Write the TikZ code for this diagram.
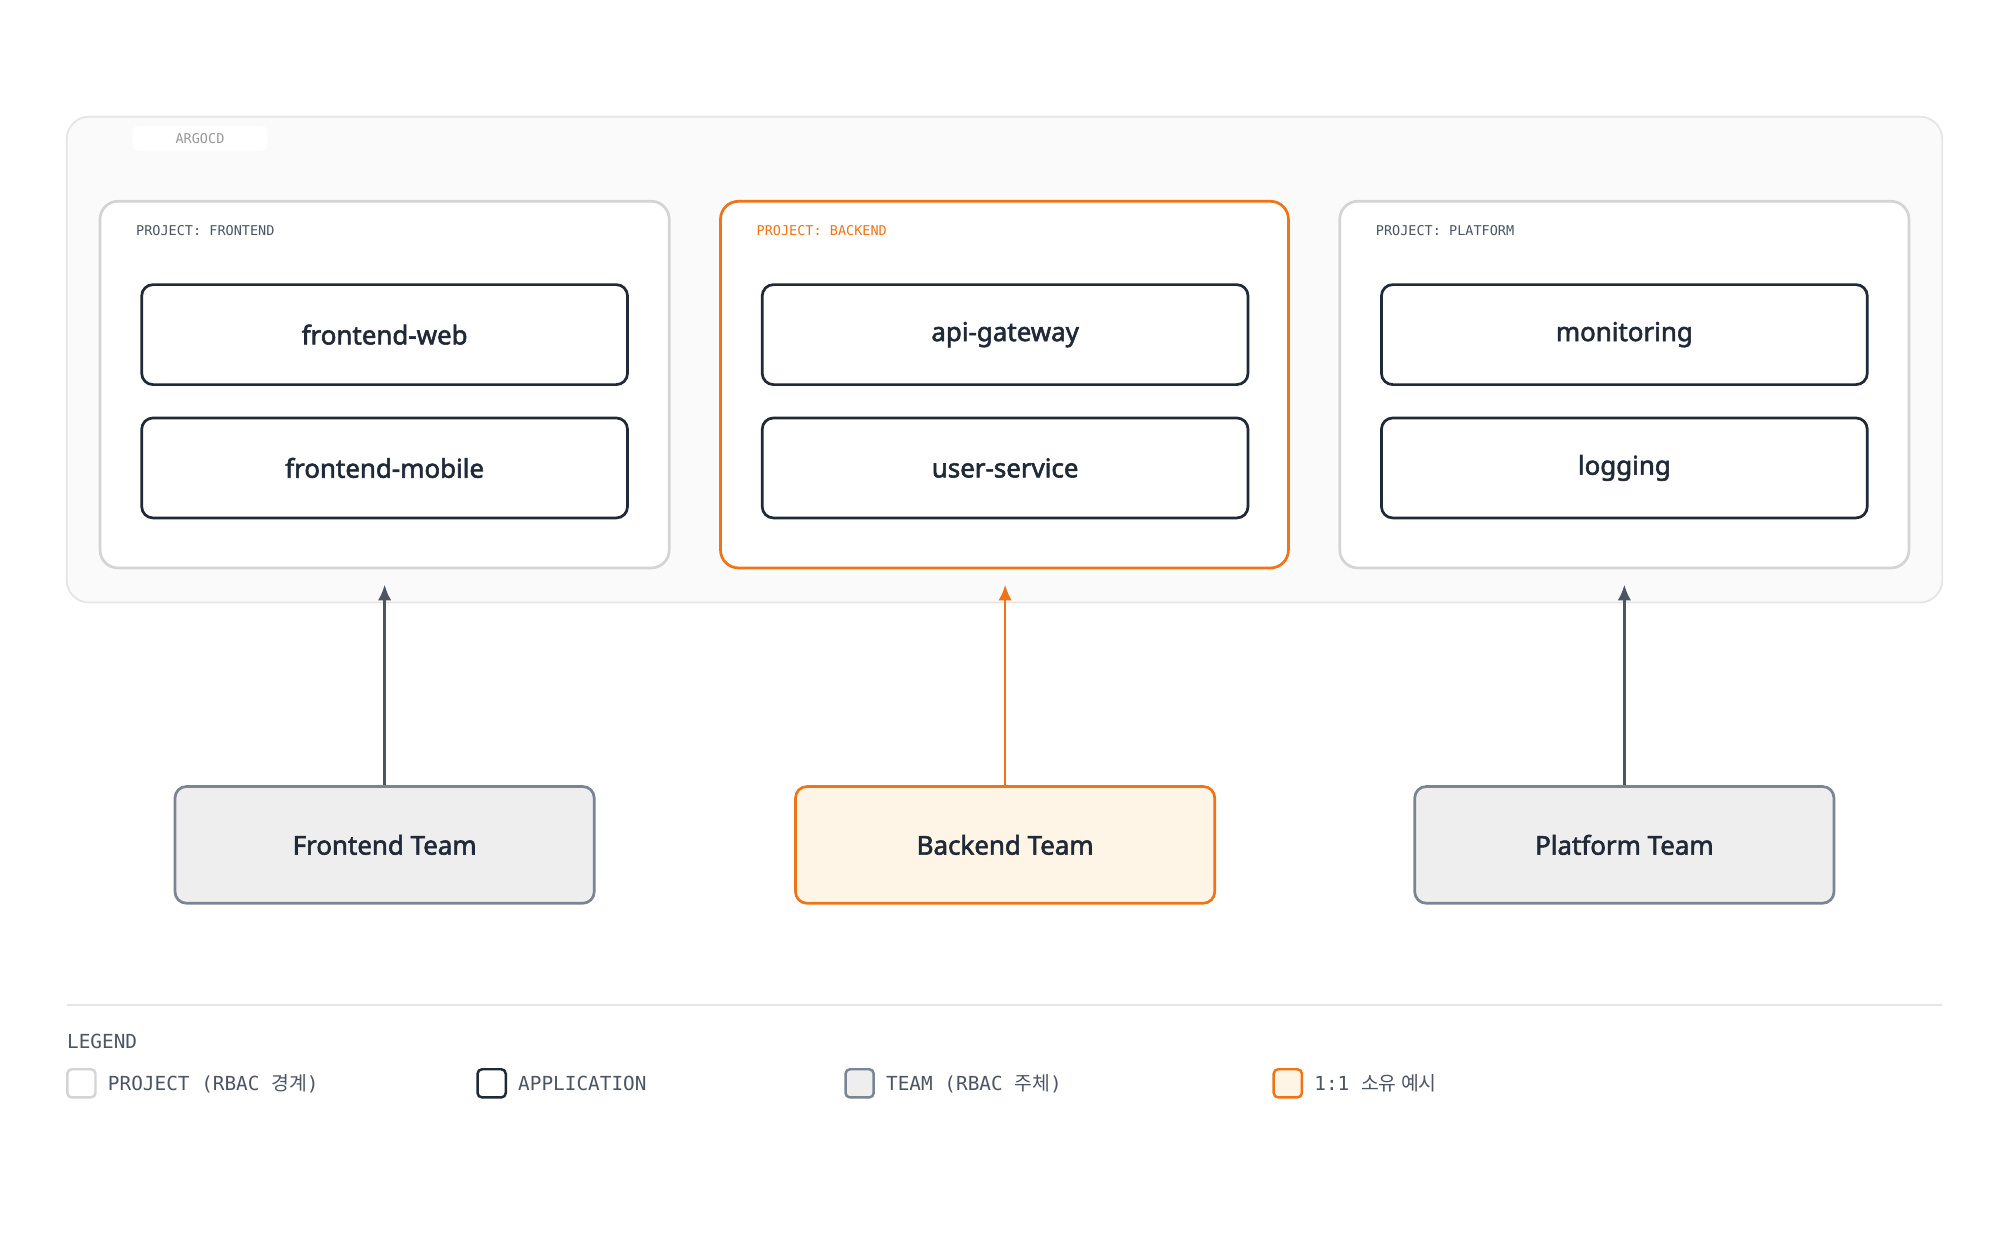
\documentclass[tikz,border=0pt]{standalone}
\usepackage{fontspec}
\setmainfont{Noto Sans}[AutoFakeBold=2.2]
\newfontfamily\monofont{DejaVu Sans Mono}
\newfontfamily\cjk{Noto Sans CJK KR}
\usetikzlibrary{positioning,arrows.meta}
\definecolor{ink}{HTML}{1F2937}
\definecolor{slate}{HTML}{4B5563}
\definecolor{teamline}{HTML}{7B8494}
\definecolor{teamfill}{HTML}{EEEEEE}
\definecolor{accent}{HTML}{F07416}
\definecolor{accentfill}{HTML}{FFF5E6}
\definecolor{projline}{HTML}{D4D4D4}
\definecolor{outerfill}{HTML}{FAFAFA}
\definecolor{outerline}{HTML}{E5E5E5}
\definecolor{labelgray}{HTML}{4B5563}
\begin{document}
\begin{tikzpicture}[x=0.02cm, y=-0.02cm,
  project/.style={draw=projline, line width=1.2pt, rounded corners=8pt, fill=white},
  app/.style={draw=ink, line width=1.2pt, rounded corners=5pt, fill=white, minimum width=7.58cm, minimum height=1.56cm, font=\bfseries\fontsize{11.5}{13}\selectfont, text=ink},
  team/.style={draw=teamline, line width=1.2pt, rounded corners=5pt, fill=teamfill, minimum width=6.54cm, minimum height=1.82cm, font=\bfseries\fontsize{11.5}{13}\selectfont, text=ink},
  tag/.style={font=\monofont\fontsize{6}{7}\selectfont, text=labelgray, anchor=west},
  key/.style={rounded corners=2pt, line width=1.1pt, minimum size=0.44cm, inner sep=0pt},
  keytext/.style={font=\monofont\fontsize{8.6}{9}\selectfont, text=labelgray, anchor=west},
  link/.style={-{Latex[length=7pt,width=6pt]}, line width=1.2pt, draw=slate}]
\useasboundingbox (0,0) rectangle (1560,975);
% argocd frame
\draw[draw=outerline, fill=outerfill, line width=0.8pt, rounded corners=10pt] (52,91) rectangle (1515,470);
\node[fill=white, rounded corners=2pt, minimum width=2.1cm, minimum height=0.38cm, font=\monofont\fontsize{6}{7}\selectfont, text=gray!80] (argocd) at (156,108) {ARGOCD};
% projects
\draw[project] (78,157) rectangle (522,443);
\draw[project, draw=accent] (562,157) rectangle (1005,443);
\draw[project] (1045,157) rectangle (1489,443);
\node[tag] (pfront) at (100,180) {PROJECT: FRONTEND};
\node[tag, text=accent] (pback) at (584,180) {PROJECT: BACKEND};
\node[tag] (pplat) at (1067,180) {PROJECT: PLATFORM};
% applications
\node[app] (fweb) at (300,261) {frontend-web};
\node[app] (fmob) at (300,365) {frontend-mobile};
\node[app] (gw) at (784,261) {api-gateway};
\node[app] (usr) at (784,365) {user-service};
\node[app] (mon) at (1267,261) {monitoring};
\node[app] (log) at (1267,365) {logging};
% anchors under the projects
\coordinate (tfront) at (300,456);
\coordinate (tback) at (784,456);
\coordinate (tplat) at (1267,456);
% teams
\node[team] (fteam) at (300,659) {Frontend Team};
\node[team, draw=accent, fill=accentfill] (bteam) at (784,659) {Backend Team};
\node[team] (pteam) at (1267,659) {Platform Team};
\draw[link] (fteam.north) -- (tfront);
\draw[link, draw=accent, fill=accent] (bteam.north) -- (tback);
\draw[link] (pteam.north) -- (tplat);
% legend
\draw[outerline, line width=0.8pt] (52,784) -- (1515,784);
\node[keytext, inner sep=0pt] (legend) at (52,812) {LEGEND};
\node[key, draw=projline, fill=white] (k1) at (63.5,845) {};
\node[keytext] at (78,845) {PROJECT (RBAC {\cjk 경계})};
\node[key, draw=ink, fill=white] (k2) at (383.5,845) {};
\node[keytext] at (398,845) {APPLICATION};
\node[key, draw=teamline, fill=teamfill] (k3) at (670.5,845) {};
\node[keytext] at (685,845) {TEAM (RBAC {\cjk 주체})};
\node[key, draw=accent, fill=accentfill] (k4) at (1004.5,845) {};
\node[keytext] at (1019,845) {1:1 {\cjk 소유 예시}};
\end{tikzpicture}
\end{document}
